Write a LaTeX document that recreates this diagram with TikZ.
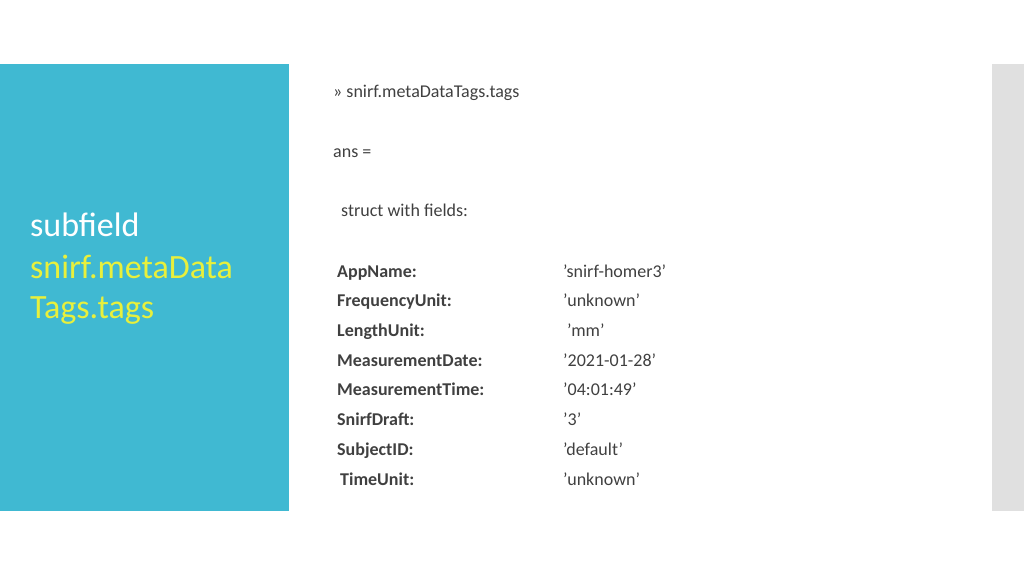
\documentclass[tikz,border=0pt]{standalone}
\usepackage{fontspec}
\setmainfont{Carlito}
\usetikzlibrary{positioning}
\definecolor{panel}{RGB}{64,185,210}
\definecolor{sidebar}{RGB}{224,224,224}
\definecolor{accent}{RGB}{232,240,60}
\definecolor{body}{RGB}{64,64,64}
\begin{document}
\begin{tikzpicture}[x=1pt,y=-1pt,
  every node/.style={inner sep=0pt,anchor=base west},
  title/.style={font=\fontsize{34}{40}\selectfont},
  line/.style={font=\fontsize{18}{22}\selectfont,text=body},
  key/.style={line,font=\fontsize{18}{22}\selectfont\bfseries}]
 \useasboundingbox (0,0) rectangle (1024,576);
 \fill[panel] (0,64) rectangle (289,511);
 \fill[sidebar] (992,64) rectangle (1024,511);
 % title
 \node[title,text=white]  (t1) at (30,236) {subfield};
 \node[title,text=accent] (t2) at (30,278) {snirf.metaData};
 \node[title,text=accent] (t3) at (30,318) {Tags.tags};
 % command output
 \node[line] (cmd)    at (333,97)  {>> snirf.metaDataTags.tags};
 \node[line] (ans)    at (333,157) {ans =};
 \node[line] (struct) at (341,216) {struct with fields:};
 \foreach \k/\v/\y/\dx/\dv in {AppName/'snirf-homer3'/277/0/0,
     FrequencyUnit/'unknown'/306/0/0,
     LengthUnit/'mm'/336/0/4,
     MeasurementDate/'2021-01-28'/366/0/0,
     MeasurementTime/'04:01:49'/395/0/0,
     SnirfDraft/'3'/425/0/0,
     SubjectID/'default'/455/0/0,
     TimeUnit/'unknown'/485/3/0}{
   \node[key]  (k-\k) at (337+\dx,\y) {\k:};
   \node[line] (v-\k) at (563+\dv,\y) {\v};
 }
\end{tikzpicture}
\end{document}
